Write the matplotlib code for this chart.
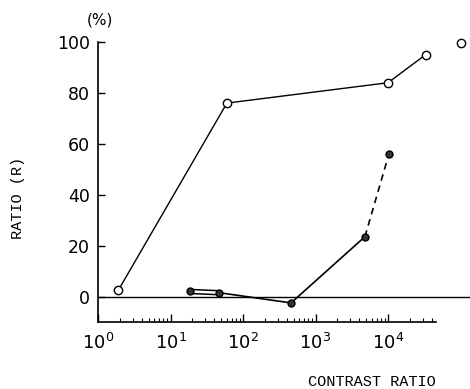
import matplotlib
matplotlib.use("Agg")
import matplotlib.pyplot as plt
import numpy as np
from matplotlib.ticker import NullFormatter, FixedLocator

# Data
open_x = [1.9, 60, 1.0e4, 3.3e4]
open_y = [2.4, 76, 84, 95]
open_iso_x = [1.0e5]
open_iso_y = [99.6]

fill_x = [18.6, 47, 460, 4800, 1.03e4]
fill_y = [2.0, 1.5, -2.5, 23.5, 56]

yticks = [0, 20, 40, 60, 80, 100]
xticks = [1, 10, 100, 1000, 10000]
xticklabels = [r"$10^{0}$", r"$10^{1}$", r"$10^{2}$", r"$10^{3}$", r"$10^{4}$"]

fig = plt.figure(figsize=(4.70, 3.89), dpi=100)
ax = fig.add_axes([98/470, 67/389, 372/470, 280/389])
ax.set_xscale("log")
ax.set_xlim(1, 10**(372/72.5))
ax.set_ylim(-10, 100)

# zero line
ax.axhline(0, color="black", lw=1.0, zorder=1)

# open circle series
ax.plot(open_x, open_y, "-", color="black", lw=1.0, marker="o", ms=6,
        mfc="white", mec="black", mew=1.0, clip_on=False, zorder=3)
ax.plot(open_iso_x, open_iso_y, "o", ms=6, mfc="white", mec="black",
        mew=1.0, clip_on=False, zorder=3)

# filled series
ax.plot(fill_x[0:2], fill_y[0:2], "-", color="black", lw=4.0, zorder=2,
        solid_capstyle="butt")
ax.plot(fill_x[0:2], fill_y[0:2], "-", color="white", lw=1.8, zorder=2.1,
        solid_capstyle="butt")
ax.plot(fill_x[1:4], fill_y[1:4], "-", color="black", lw=1.2, zorder=2)
ax.plot(fill_x[3:5], fill_y[3:5], "--", color="black", lw=1.2, zorder=2,
        dashes=(4, 3))
ax.plot(fill_x, fill_y, "o", ms=5, mfc="#333333", mec="black", mew=1.0,
        zorder=3, clip_on=False)

# spines
for s in ["top", "right"]:
    ax.spines[s].set_visible(False)
ax.spines["left"].set_bounds(-10, 100)
ax.spines["bottom"].set_bounds(1, 10**4.66)
ax.spines["left"].set_linewidth(1.2)
ax.spines["bottom"].set_linewidth(1.2)

ax.set_yticks(yticks)
ax.set_yticklabels([str(v) for v in yticks], fontsize=12.5)
ax.tick_params(axis="y", direction="in", length=5, width=1.0, pad=6)

ax.xaxis.set_major_locator(FixedLocator(xticks))
ax.set_xticklabels(xticklabels, fontsize=13)
minor = [m * 10**e for e in range(0, 5) for m in range(2, 10) if m * 10**e <= 10**4.66]
ax.xaxis.set_minor_locator(FixedLocator(minor))
ax.xaxis.set_minor_formatter(NullFormatter())
ax.tick_params(axis="x", which="major", direction="in", length=6, width=1.0, pad=8)
ax.tick_params(axis="x", which="minor", direction="in", length=3, width=0.8)

fig.text(100/470, 1 - 20/389, "(%)", fontsize=11, ha="center", va="center")
fig.text(18/470, 1 - 198/389, "RATIO (R)", fontsize=11, rotation=90,
         ha="center", va="center", family="Liberation Mono")
fig.text(372/470, 1 - 382/389, "CONTRAST RATIO", fontsize=11,
         ha="center", va="center", family="Liberation Mono")

fig.savefig("out.png", dpi=100)
